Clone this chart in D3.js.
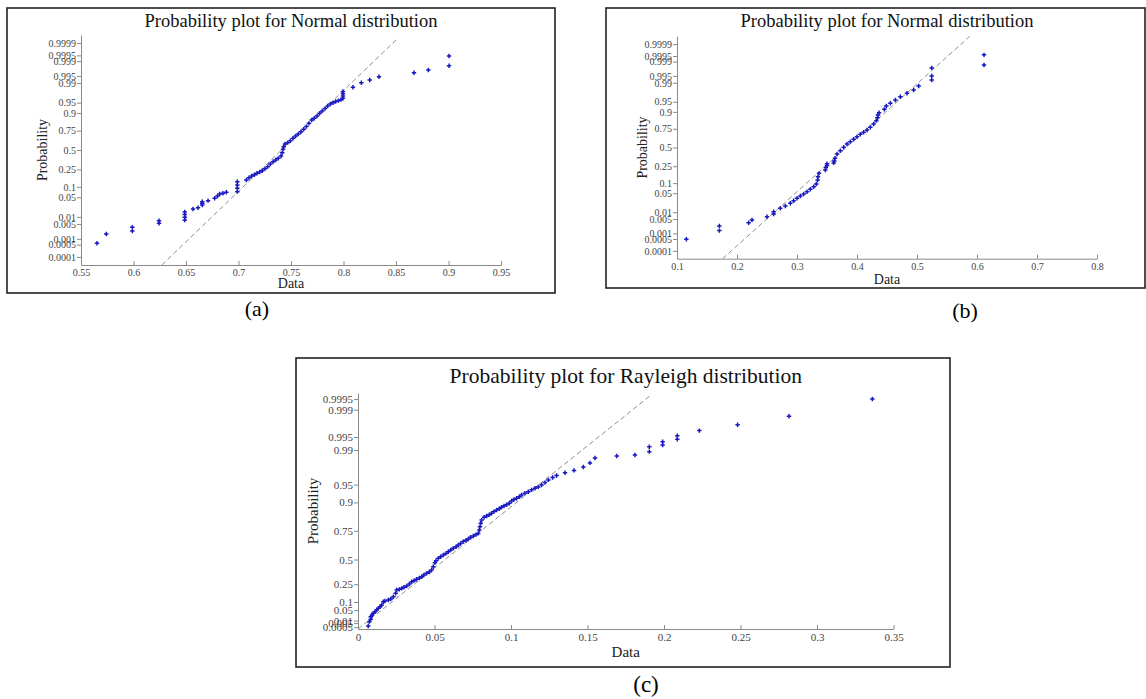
<!DOCTYPE html>
<html>
<head>
<meta charset="utf-8">
<script src="https://cdn.jsdelivr.net/npm/d3@7"></script>
<style>
  body { margin: 0; background: #fff; }
  svg { display: block; font-family: "Liberation Serif", "Times New Roman", serif; }
</style>
</head>
<body>
<svg id="chart" width="1146" height="699"></svg>
<script>
// tick labels
var normalTicks = [0.0001, 0.0005, 0.001, 0.005, 0.01, 0.05, 0.1, 0.25, 0.5, 0.75, 0.9, 0.95, 0.99, 0.995, 0.999, 0.9995, 0.9999];
var rayleighTicks = [0.0005, 0.005, 0.01, 0.05, 0.1, 0.25, 0.5, 0.75, 0.9, 0.95, 0.99, 0.995, 0.999, 0.9995];
var xTicksA = [0.55, 0.6, 0.65, 0.7, 0.75, 0.8, 0.85, 0.9, 0.95];
var xTicksB = [0.1, 0.2, 0.3, 0.4, 0.5, 0.6, 0.7, 0.8];
var xTicksC = [0, 0.05, 0.1, 0.15, 0.2, 0.25, 0.3, 0.35];

// (a) sorted data and plotted probability
var valuesA = [0.5652, 0.5741, 0.5989, 0.5989, 0.6243, 0.6243, 0.6488, 0.6488, 0.6488, 0.6488,
  0.6567, 0.6614, 0.6655, 0.6655, 0.6655, 0.6710, 0.6773, 0.6800, 0.6821, 0.6852, 0.6884,
  0.6989, 0.6989, 0.6989, 0.6989, 0.7075, 0.7100, 0.7126, 0.7151, 0.7176, 0.7202, 0.7227,
  0.7252, 0.7278, 0.7303, 0.7329, 0.7354, 0.7379, 0.7405, 0.7417, 0.7424, 0.7430, 0.7443,
  0.7468, 0.7494, 0.7519, 0.7544, 0.7570, 0.7595, 0.7621, 0.7646, 0.7671, 0.7697, 0.7722,
  0.7748, 0.7773, 0.7798, 0.7824, 0.7849, 0.7875, 0.7900, 0.7925, 0.7951, 0.7976,
  0.7995, 0.7995, 0.7995, 0.7995, 0.8090, 0.8170, 0.8250, 0.8338, 0.8671, 0.8808, 0.9005, 0.9005];
var probA = [0.00059, 0.00174, 0.0024, 0.0036, 0.0054, 0.0070, 0.0074, 0.0096, 0.0123, 0.0155,
  0.0201, 0.0224, 0.0279, 0.0320, 0.0362, 0.0390, 0.0464, 0.0550, 0.0630, 0.0660, 0.0705,
  0.0737, 0.0913, 0.112, 0.135, 0.148, 0.168, 0.183, 0.195, 0.209, 0.222, 0.236,
  0.258, 0.281, 0.313, 0.342, 0.364, 0.386, 0.417, 0.463, 0.509, 0.546, 0.583,
  0.601, 0.627, 0.658, 0.687, 0.711, 0.738, 0.764, 0.792, 0.823, 0.852, 0.865,
  0.882, 0.899, 0.913, 0.925, 0.937, 0.945, 0.950, 0.954, 0.957, 0.960,
  0.964, 0.970, 0.975, 0.979, 0.9854, 0.9904, 0.9926, 0.9946, 0.9964, 0.9973, 0.9983, 0.99946];

// (b)
var valuesB = [0.1156, 0.1706, 0.1706, 0.2194, 0.2250, 0.2500, 0.2611, 0.2611, 0.2722, 0.2806,
  0.2889, 0.2944, 0.3000, 0.3056, 0.3111, 0.3167, 0.3222, 0.3278, 0.3322, 0.3344, 0.3350,
  0.3367, 0.3472, 0.3480, 0.3500, 0.3500, 0.3611, 0.3622, 0.3633, 0.3667, 0.3722, 0.3778,
  0.3833, 0.3889, 0.3944, 0.4000, 0.4056, 0.4111, 0.4167, 0.4222, 0.4278, 0.4322, 0.4340,
  0.4350, 0.4367, 0.4456, 0.4489, 0.4556, 0.4639, 0.4722, 0.4833, 0.4944, 0.5028,
  0.5245, 0.5245, 0.5245, 0.6117, 0.6117];
var probB = [0.00048, 0.0014, 0.0024, 0.0034, 0.0046, 0.0064, 0.0084, 0.0105, 0.0144, 0.0177,
  0.0224, 0.0278, 0.0339, 0.0405, 0.0472, 0.056, 0.0663, 0.0793, 0.0946, 0.121, 0.147,
  0.176, 0.209, 0.235, 0.260, 0.280, 0.290, 0.315, 0.349, 0.407, 0.454, 0.503,
  0.550, 0.583, 0.616, 0.651, 0.683, 0.708, 0.735, 0.766, 0.801, 0.833, 0.858,
  0.879, 0.895, 0.915, 0.932, 0.944, 0.956, 0.966, 0.9744, 0.9807, 0.9865,
  0.9924, 0.9950, 0.9979, 0.9985, 0.99957];

// (c)
var valuesC = [0.0067, 0.0074, 0.0083, 0.0083, 0.0092, 0.0100, 0.0111, 0.0122, 0.0133, 0.0144,
  0.0155, 0.0166, 0.0176, 0.0198, 0.0214, 0.0231, 0.0246, 0.0253, 0.0270, 0.0285, 0.0301,
  0.0318, 0.0336, 0.0351, 0.0366, 0.0383, 0.0401, 0.0416, 0.0431, 0.0449, 0.0466, 0.0481,
  0.0492, 0.0503, 0.0510, 0.0525, 0.0540, 0.0558, 0.0575, 0.0590, 0.0606, 0.0623, 0.0641,
  0.0656, 0.0671, 0.0688, 0.0706, 0.0721, 0.0736, 0.0754, 0.0771, 0.0786, 0.0793, 0.0797,
  0.0802, 0.0808, 0.0824, 0.0841, 0.0858, 0.0873, 0.0889, 0.0906, 0.0923, 0.0938, 0.0954,
  0.0971, 0.0989, 0.1004, 0.1019, 0.1037, 0.1054, 0.1069, 0.1091, 0.1113, 0.1135, 0.1157,
  0.1178, 0.1200, 0.1222, 0.1244, 0.1272, 0.1298, 0.1353, 0.1412, 0.1473, 0.1516, 0.1549,
  0.1691, 0.1810, 0.1904, 0.1904, 0.1991, 0.1991, 0.2087, 0.2087, 0.2231, 0.2481, 0.2817, 0.3362];
var probC = [0.0013, 0.0077, 0.0134, 0.0216, 0.0277, 0.0348, 0.0420, 0.0505, 0.0595, 0.0689,
  0.0795, 0.1015, 0.1068, 0.114, 0.121, 0.139, 0.167, 0.196, 0.202, 0.211, 0.221,
  0.233, 0.253, 0.275, 0.285, 0.299, 0.311, 0.325, 0.342, 0.359, 0.373, 0.393,
  0.427, 0.468, 0.489, 0.512, 0.528, 0.545, 0.560, 0.576, 0.592, 0.607, 0.622,
  0.637, 0.651, 0.666, 0.677, 0.688, 0.701, 0.711, 0.722, 0.731, 0.755, 0.778,
  0.799, 0.818, 0.834, 0.840, 0.847, 0.854, 0.862, 0.869, 0.875, 0.881, 0.886,
  0.891, 0.897, 0.905, 0.910, 0.914, 0.919, 0.924, 0.929, 0.933, 0.938, 0.942,
  0.945, 0.949, 0.954, 0.959, 0.963, 0.966, 0.970, 0.973, 0.977, 0.981, 0.985,
  0.9864, 0.9871, 0.9891, 0.9915, 0.9923, 0.9935, 0.9943, 0.9953, 0.9965, 0.9975, 0.9985, 0.9995];

// fitted reference lines: normal [mu, sigma], rayleigh [sigma]
var fitA = [0.741, 0.0285];
var fitB = [0.382, 0.0515];
var fitC = [0.0483];

// inverse normal cdf (Acklam)
function probit(p) {
    var a = [-39.69683028665376, 220.9460984245205, -275.9285104469687, 138.3577518672690, -30.66479806614716, 2.506628277459239];
    var b = [-54.47609879822406, 161.5858368580409, -155.6989798598866, 66.80131188771972, -13.28068155288572];
    var c = [-0.007784894002430293, -0.3223964580411365, -2.400758277161838, -2.549732539343734, 4.374664141464968, 2.938163982698783];
    var d = [0.007784695709041462, 0.3224671290700398, 2.445134137142996, 3.754408661907416];
    var q, r;
    if (p < 0.02425) {
        q = Math.sqrt(-2 * Math.log(p));
        return (((((c[0] * q + c[1]) * q + c[2]) * q + c[3]) * q + c[4]) * q + c[5]) / ((((d[0] * q + d[1]) * q + d[2]) * q + d[3]) * q + 1);
    }
    if (p > 1 - 0.02425) {
        q = Math.sqrt(-2 * Math.log(1 - p));
        return -(((((c[0] * q + c[1]) * q + c[2]) * q + c[3]) * q + c[4]) * q + c[5]) / ((((d[0] * q + d[1]) * q + d[2]) * q + d[3]) * q + 1);
    }
    q = p - 0.5;
    r = q * q;
    return (((((a[0] * r + a[1]) * r + a[2]) * r + a[3]) * r + a[4]) * r + a[5]) * q / (((((b[0] * r + b[1]) * r + b[2]) * r + b[3]) * r + b[4]) * r + 1);
}

// rayleigh quantile for unit scale
function rayleighQ(p) {
    return Math.sqrt(-2 * Math.log(1 - p));
}

var panels = [
    { box: [7, 8, 555, 293], xDomain: [0.55, 0.95], xRange: [81, 501], yDomain: [-4, 4], yRange: [265, 35],
      quant: probit, values: valuesA, probs: probA, yTicks: normalTicks, xTicks: xTicksA,
      fitLine: function(z) { return fitA[0] + fitA[1] * z; }, fitZ: [-4, 3.9],
      title: "Probability plot for Normal distribution", titleY: 27, titleSize: 18.5,
      tickFont: 10, labelFont: 14, ylabX: 42, xlabY: 288, caption: "(a)", capX: 257, capY: 316, capFont: 22 },
    { box: [606, 8, 1145, 288], xDomain: [0.1, 0.8], xRange: [677, 1097], yDomain: [-4, 4], yRange: [258.7, 36.3],
      quant: probit, values: valuesB, probs: probB, yTicks: normalTicks, xTicks: xTicksB,
      fitLine: function(z) { return fitB[0] + fitB[1] * z; }, fitZ: [-4, 4],
      title: "Probability plot for Normal distribution", titleY: 27, titleSize: 18.5,
      tickFont: 10, labelFont: 14, ylabX: 642, xlabY: 284, caption: "(b)", capX: 965, capY: 318, capFont: 22 },
    { box: [296, 358, 950, 667], xDomain: [0, 0.35], xRange: [358, 893.5], yDomain: [0, 4], yRange: [629, 393],
      quant: rayleighQ, values: valuesC, probs: probC, yTicks: rayleighTicks, xTicks: xTicksC,
      fitLine: function(q) { return fitC[0] * q; }, fitZ: [0, 3.97],
      title: "Probability plot for Rayleigh distribution", titleY: 383, titleSize: 21.5,
      tickFont: 11, labelFont: 15, ylabX: 313, xlabY: 657, caption: "(c)", capX: 646, capY: 692, capFont: 23 }
];

var svg = d3.select("#chart");

panels.forEach(function(p) {
    var g = svg.append("g");
    var x = d3.scaleLinear().domain(p.xDomain).range(p.xRange);
    var y = d3.scaleLinear().domain(p.yDomain).range(p.yRange);

    //outer frame
    g.append("rect")
        .attr("x", p.box[0]).attr("y", p.box[1])
        .attr("width", p.box[2] - p.box[0]).attr("height", p.box[3] - p.box[1])
        .attr("fill", "none").attr("stroke", "#222").attr("stroke-width", 1.6);

    //axes, x ticks point inward, y ticks outward
    var xAxis = g.append("g")
        .attr("transform", "translate(0," + p.yRange[0] + ")")
        .call(d3.axisBottom(x).tickValues(p.xTicks).tickFormat(function(d) { return String(d); })
            .tickSize(-4).tickSizeOuter(0).tickPadding(4));
    var yAxis = g.append("g")
        .attr("transform", "translate(" + p.xRange[0] + ",0)")
        .call(d3.axisLeft(y).tickValues(p.yTicks.map(p.quant)).tickFormat(function(d, i) { return p.yTicks[i]; })
            .tickSize(4).tickSizeOuter(0).tickPadding(1));
    [xAxis, yAxis].forEach(function(ax) {
        ax.select(".domain").attr("stroke", "#8a8a8a");
        ax.selectAll(".tick line").attr("stroke", "#8a8a8a");
        ax.selectAll("text")
            .attr("fill", "#444")
            .style("font-family", "Liberation Serif")
            .style("font-size", p.tickFont + "px");
    });

    //fitted reference line
    g.append("line")
        .attr("x1", x(p.fitLine(p.fitZ[0]))).attr("y1", y(p.fitZ[0]))
        .attr("x2", x(p.fitLine(p.fitZ[1]))).attr("y2", y(p.fitZ[1]))
        .attr("stroke", "#909090").attr("stroke-width", 1)
        .attr("stroke-dasharray", "5,3");

    //plus markers
    g.selectAll(".pt")
        .data(p.values)
        .enter()
        .append("path")
        .attr("class", "pt")
        .attr("transform", function(d, i) { return "translate(" + x(d) + "," + y(p.quant(p.probs[i])) + ")"; })
        .attr("d", "M-2.2,0H2.2M0,-2.2V2.2")
        .attr("stroke", "#1818c0")
        .attr("stroke-width", 1.5);

    //texts
    var midX = (p.xRange[0] + p.xRange[1]) / 2;
    g.append("text")
        .text(p.title)
        .attr("x", midX).attr("y", p.titleY)
        .attr("text-anchor", "middle")
        .style("font-size", p.titleSize + "px")
        .attr("fill", "#111");
    g.append("text")
        .text("Data")
        .attr("x", midX).attr("y", p.xlabY)
        .attr("text-anchor", "middle")
        .style("font-size", p.labelFont + "px")
        .attr("fill", "#222");
    var midY = (p.yRange[0] + p.yRange[1]) / 2;
    g.append("text")
        .text("Probability")
        .attr("transform", "translate(" + (p.ylabX + 5) + "," + midY + ") rotate(-90)")
        .attr("text-anchor", "middle")
        .style("font-size", p.labelFont + "px")
        .attr("fill", "#222");
    g.append("text")
        .text(p.caption)
        .attr("x", p.capX).attr("y", p.capY)
        .attr("text-anchor", "middle")
        .style("font-size", p.capFont + "px")
        .attr("fill", "#000");
});
</script>
</body>
</html>
